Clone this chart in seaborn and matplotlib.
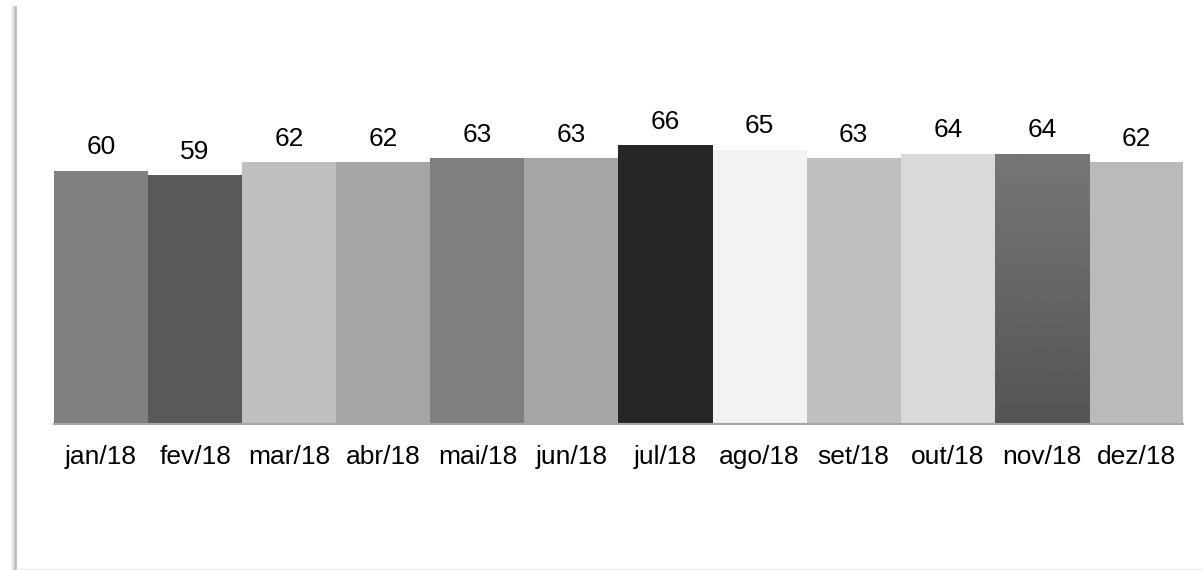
import numpy as np
import pandas as pd
import matplotlib
matplotlib.use("Agg")
import matplotlib.pyplot as plt
from matplotlib.lines import Line2D
import seaborn as sns

months = ["jan/18", "fev/18", "mar/18", "abr/18", "mai/18", "jun/18",
          "jul/18", "ago/18", "set/18", "out/18", "nov/18", "dez/18"]
values = [60, 59, 62, 62, 63, 63, 66, 65, 63, 64, 64, 62]
bar_colors = ["#808080", "#595959", "#bfbfbf", "#a6a6a6", "#7f7f7f", "#a6a6a6",
              "#262626", "#f2f2f2", "#bfbfbf", "#d9d9d9", "#666666", "#bababa"]

sns.set_theme(style="white")
plt.rcParams["font.family"] = ["Liberation Sans", "DejaVu Sans"]

W, H = 1203, 570
fig = plt.figure(figsize=(W / 100, H / 100), dpi=100)
fig.patch.set_facecolor("white")

left, right, bottom_px = 54, 1183, 424
ymax = 80
px_per_unit = 4.22
top_px = bottom_px - ymax * px_per_unit
ax = fig.add_axes([left / W, (H - bottom_px) / H, (right - left) / W,
                   (bottom_px - top_px) / H])

df = pd.DataFrame({"month": months, "value": values})
sns.barplot(data=df, x="month", y="value", hue="month", palette=bar_colors,
            width=1.0, legend=False, ax=ax, saturation=1, linewidth=0)

ax.set_xlim(-0.5, len(months) - 0.5)
ax.set_ylim(0, ymax)
ax.set_xlabel("")
ax.set_ylabel("")
ax.set_yticks([])
ax.tick_params(axis="x", length=0, pad=15, labelsize=19, colors="black")
for side in ["left", "right", "top"]:
    ax.spines[side].set_visible(False)
ax.spines["bottom"].set_color("#a6a6a6")
ax.spines["bottom"].set_linewidth(1.5)

# vertical gradient on the November bar: lighter at the top, darker at the base
nov_patch = ax.patches[months.index("nov/18")]
x0 = nov_patch.get_x()
w = nov_patch.get_width()
h = nov_patch.get_height()
grad = np.linspace(0.33, 0.465, 256).reshape(-1, 1)
img = ax.imshow(grad, extent=(x0, x0 + w, 0, h), cmap="gray", vmin=0, vmax=1,
                aspect="auto", origin="lower", zorder=nov_patch.get_zorder() + 0.1,
                interpolation="bilinear")
img.set_clip_path(nov_patch)
ax.set_xlim(-0.5, len(months) - 0.5)
ax.set_ylim(0, ymax)

# value labels above bars
for i, v in enumerate(values):
    ax.text(i, v + 3.9, f"{v}", ha="center", va="baseline", fontsize=19,
            color="black")

# frame: shaded left edge and faint bottom edge
for dx, c in [(-4, "#f4f4f4"), (-3, "#ececec"), (-2, "#dedede"), (-1, "#cfcfcf"),
              (0, "#b8b8b8"), (1, "#c4c4c4")]:
    xf = (15 + dx) / W
    fig.add_artist(Line2D([xf, xf], [0, 1 - 6 / H], transform=fig.transFigure,
                          color=c, linewidth=0.75))
fig.add_artist(Line2D([17 / W, 1], [1.5 / H, 1.5 / H], transform=fig.transFigure,
                      color="#ececec", linewidth=1))

fig.savefig("out.png", dpi=100, facecolor="white")
